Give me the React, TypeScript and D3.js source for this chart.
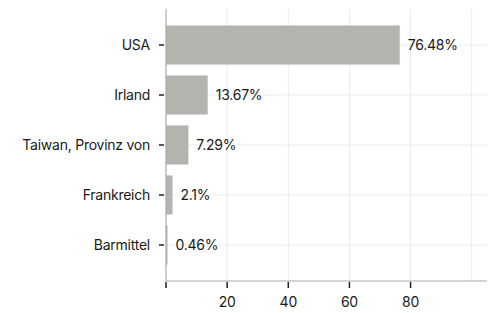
import * as React from 'react';
import * as d3 from 'd3';

// Chart data
const categories = ['USA', 'Irland', 'Taiwan, Provinz von', 'Frankreich', 'Barmittel'];
const values = [76.48, 13.67, 7.29, 2.1, 0.46];
const valueLabels = ['76.48%', '13.67%', '7.29%', '2.1%', '0.46%'];
const xTicks = [0, 20, 40, 60, 80];
const xGrid = [20, 40, 60, 80, 100];

const width = 494;
const height = 313;
const margin = { top: 9, right: 7, bottom: 32, left: 166 };
const font = 'Inter, "Noto Sans", sans-serif';

export default function App() {
    const innerWidth = width - margin.left - margin.right;
    const innerHeight = height - margin.top - margin.bottom;

    const x = d3.scaleLinear().domain([0, 105]).range([0, innerWidth]);
    const y = d3.scaleBand<string>()
        .domain(categories)
        .range([0, innerHeight])
        .paddingInner(0.22)
        .paddingOuter(0.33);

    return (
        <svg width={width} height={height} style={{ position: 'absolute', left: 0, top: 0 }}>
            <g transform={`translate(${margin.left},${margin.top})`} fontFamily={font} fontSize={14} letterSpacing={-0.25}>
                {/* grid */}
                {xGrid.map(t => (
                    <line key={'gx' + t} x1={x(t)} x2={x(t)} y1={0} y2={innerHeight} stroke="#ebebeb" strokeWidth={1} />
                ))}
                {categories.map(c => (
                    <line key={'gy' + c} x1={0} x2={innerWidth} y1={y(c)! + y.bandwidth() / 2} y2={y(c)! + y.bandwidth() / 2} stroke="#ebebeb" strokeWidth={1} />
                ))}
                {/* bars */}
                {categories.map((c, i) => (
                    <rect key={'b' + c} x={x(0)} y={y(c)} width={x(values[i]) - x(0)} height={y.bandwidth()} fill="#b5b3ae" stroke="#d6d4d0" strokeWidth={0.5} />
                ))}
                {/* value labels */}
                {categories.map((c, i) => (
                    <text key={'v' + c} x={x(values[i]) + 8} y={y(c)! + y.bandwidth() / 2} dy="0.35em" fill="#1a1a1a">
                        {valueLabels[i]}
                    </text>
                ))}
                {/* y axis */}
                <line x1={0} x2={0} y1={0} y2={innerHeight} stroke="#aaaaaa" strokeWidth={1.2} />
                {categories.map(c => (
                    <g key={'yt' + c} transform={`translate(0,${y(c)! + y.bandwidth() / 2})`}>
                        <line x1={-7} x2={-2} stroke="#222" strokeWidth={1.5} />
                        <text x={-16} dy="0.35em" textAnchor="end" fill="#1a1a1a">{c}</text>
                    </g>
                ))}
                {/* x axis */}
                <line x1={0} x2={innerWidth} y1={innerHeight} y2={innerHeight} stroke="#aaaaaa" strokeWidth={1.2} />
                {xTicks.map(t => (
                    <g key={'xt' + t} transform={`translate(${x(t)},${innerHeight})`}>
                        <line y1={1} y2={7} stroke="#222" strokeWidth={1.5} />
                        {t !== 0 && (
                            <text y={21} dy="0.35em" textAnchor="middle" fill="#1a1a1a">{t}</text>
                        )}
                    </g>
                ))}
            </g>
        </svg>
    );
}
